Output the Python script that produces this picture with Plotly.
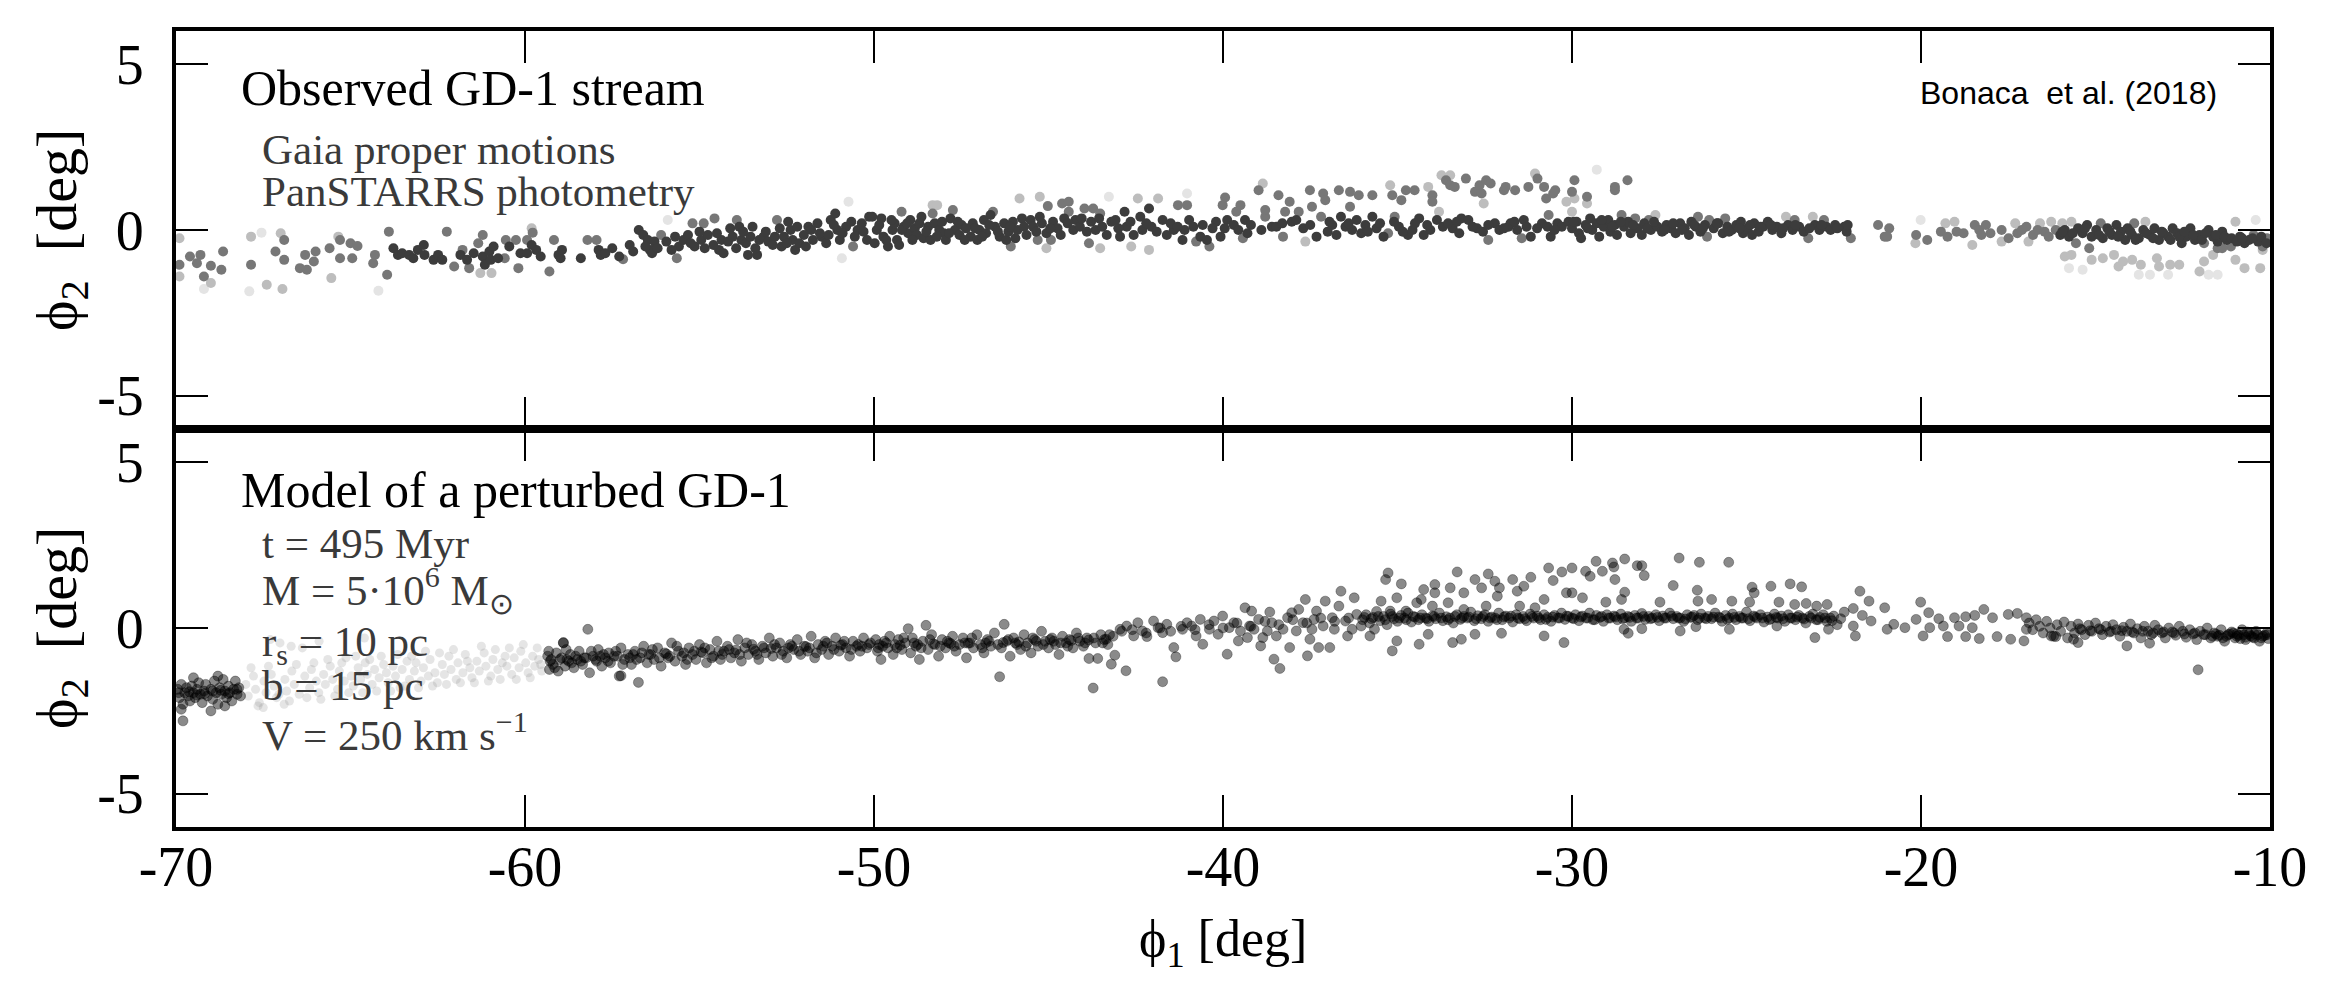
import plotly.graph_objects as go
from plotly.subplots import make_subplots

# ---- observed stream (top panel), grouped by shade ----
obs_dark = [
    (-63.77, -0.55), (-63.64, -0.75), (-63.52, -0.70), (-63.32, -0.75), (-63.20, -0.85), (-63.07, -0.60),
    (-62.90, -0.45), (-62.88, -0.75), (-62.62, -0.90), (-62.49, -0.75), (-62.37, -0.90), (-61.85, -0.75),
    (-61.66, -0.90), (-61.47, -0.70), (-61.21, -0.80), (-61.15, -1.05), (-61.02, -0.65), (-60.98, -0.90),
    (-60.90, -0.50), (-60.77, -0.85), (-60.45, -0.50), (-60.13, -0.70), (-59.94, -0.70), (-59.81, -0.45),
    (-59.68, -0.60), (-59.55, -0.80), (-59.04, -0.75), (-58.98, -0.85), (-58.94, -0.60), (-58.40, -0.85),
    (-57.89, -0.60), (-57.83, -0.75), (-57.70, -0.70), (-56.74, 0.00), (-56.61, -0.15), (-56.48, -0.30),
    (-56.42, -0.60), (-56.36, -0.70), (-56.29, -0.35), (-55.59, -0.50), (-55.46, -0.30), (-55.33, -0.15),
    (-55.14, -0.50), (-54.95, -0.30), (-54.76, -0.15), (-54.44, -0.60), (-54.37, -0.30), (-54.31, -0.70),
    (-54.18, -0.35), (-54.12, 0.05), (-54.05, -0.20), (-53.86, 0.10), (-53.80, -0.30), (-53.67, -0.40),
    (-53.61, -0.75), (-53.54, -0.20), (-53.48, 0.10), (-53.35, -0.75), (-53.29, -0.30), (-53.16, -0.20),
    (-53.03, -0.35), (-52.84, -0.20), (-52.65, -0.50), (-52.58, -0.20), (-52.46, 0.25), (-52.39, 0.00),
    (-52.33, -0.30), (-52.26, -0.60), (-52.20, 0.10), (-52.14, -0.40), (-52.01, -0.15), (-51.88, 0.10),
    (-51.75, -0.30), (-51.62, 0.20), (-51.50, -0.20), (-51.37, -0.40), (-51.24, 0.30), (-51.11, 0.50),
    (-51.05, 0.00), (-50.98, -0.30), (-50.80, 0.10), (-50.47, 0.00), (-50.35, 0.20), (-50.20, -0.30),
    (-50.14, 0.40), (-50.05, 0.40), (-49.92, 0.00), (-49.98, -0.40), (-49.79, 0.35), (-49.73, -0.20),
    (-49.60, -0.50), (-49.47, 0.00), (-49.41, 0.20), (-49.34, -0.30), (-49.28, -0.45), (-49.15, 0.10),
    (-49.02, -0.10), (-48.96, 0.30), (-48.83, 0.05), (-48.77, -0.15), (-48.64, 0.40), (-48.58, -0.25),
    (-48.45, 0.10), (-48.38, -0.30), (-48.26, 0.20), (-48.13, 0.00), (-48.00, -0.10), (-47.94, -0.30),
    (-47.81, 0.35), (-47.68, 0.00), (-47.55, -0.15), (-47.49, 0.15), (-47.36, 0.05), (-47.23, -0.20),
    (-47.17, 0.20), (-47.04, -0.30), (-46.98, 0.00), (-46.85, 0.30), (-46.79, -0.10), (-46.66, 0.45),
    (-46.53, 0.10), (-46.40, -0.20), (-46.27, 0.20), (-46.21, -0.30), (-46.15, -0.05), (-46.02, 0.25),
    (-45.89, 0.00), (-45.76, 0.35), (-45.63, -0.15), (-45.51, 0.30), (-45.44, 0.10), (-45.19, 0.20),
    (-45.06, -0.10), (-44.87, 0.25), (-44.74, 0.05), (-44.55, 0.35), (-44.29, 0.00), (-44.23, 0.30),
    (-44.10, 0.10), (-43.78, 0.25), (-43.65, 0.00), (-43.46, 0.10), (-43.33, -0.15), (-43.20, 0.25),
    (-43.08, 0.30), (-42.95, -0.20), (-42.82, 0.55), (-42.76, 0.10), (-42.56, -0.15), (-42.37, 0.40),
    (-42.31, 0.00), (-42.12, 0.65), (-42.05, 0.10), (-41.73, 0.30), (-41.61, -0.15), (-41.41, 0.00),
    (-41.16, -0.30), (-41.10, 0.00), (-40.97, 0.30), (-40.65, -0.20), (-40.58, 0.15), (-40.46, -0.30),
    (-40.20, 0.25), (-40.07, -0.20), (-39.88, 0.30), (-39.69, 0.15), (-39.56, 0.00), (-39.37, 0.30),
    (-39.30, -0.10), (-38.60, 0.10), (-38.47, 0.10), (-38.03, 0.25), (-37.90, 0.30), (-37.32, -0.20),
    (-37.00, -0.05), (-36.87, 0.15), (-36.75, -0.15), (-36.62, 0.40), (-36.49, 0.10), (-36.30, 0.00),
    (-36.17, 0.30), (-36.04, -0.10), (-35.92, 0.15), (-35.72, 0.40), (-35.60, 0.05), (-35.40, -0.20),
    (-34.96, 0.10), (-34.70, -0.15), (-34.57, 0.00), (-34.38, 0.35), (-34.25, -0.15), (-34.06, 0.00),
    (-33.87, 0.30), (-33.42, 0.05), (-33.23, -0.10), (-33.17, 0.35), (-32.97, 0.30), (-32.72, 0.05),
    (-32.21, 0.20), (-32.08, 0.00), (-31.82, 0.10), (-31.76, 0.20), (-31.57, 0.00), (-31.38, 0.30),
    (-31.18, -0.20), (-30.86, 0.20), (-30.61, -0.20), (-30.42, 0.20), (-30.29, 0.10), (-30.10, 0.25),
    (-30.00, 0.05), (-29.87, 0.25), (-29.80, -0.10), (-29.74, -0.25), (-29.61, 0.15), (-29.48, 0.35),
    (-29.42, 0.00), (-29.29, 0.20), (-29.22, -0.20), (-29.09, 0.10), (-28.96, 0.30), (-28.90, -0.05),
    (-28.77, 0.15), (-28.71, -0.15), (-28.51, 0.10), (-28.39, 0.25), (-28.32, -0.10), (-28.13, 0.05),
    (-28.00, -0.15), (-27.93, 0.20), (-27.74, 0.00), (-27.55, 0.10), (-27.42, -0.05), (-27.29, 0.15),
    (-27.16, 0.05), (-27.03, -0.10), (-26.90, 0.20), (-26.77, 0.05), (-26.65, -0.15), (-26.58, 0.25),
    (-26.45, 0.10), (-26.32, -0.05), (-26.19, 0.15), (-25.94, 0.05), (-25.81, 0.20), (-25.68, -0.10),
    (-25.55, 0.10), (-25.42, 0.00), (-25.29, 0.15), (-25.16, 0.25), (-25.10, -0.10), (-24.97, 0.05),
    (-24.84, -0.15), (-24.78, 0.20), (-24.65, -0.05), (-24.52, 0.10), (-24.39, 0.25), (-24.26, 0.00),
    (-24.13, 0.10), (-24.00, -0.10), (-23.81, 0.15), (-23.68, 0.00), (-23.49, 0.10), (-23.36, -0.05),
    (-23.04, 0.15), (-22.91, 0.00), (-22.71, 0.10), (-22.59, 0.00), (-22.46, 0.15), (-22.20, 0.10),
    (-22.13, -0.05), (-16.01, -0.15), (-15.88, 0.00), (-15.76, -0.20), (-15.50, 0.05), (-15.37, -0.10),
    (-15.24, 0.15), (-15.11, -0.20), (-14.98, 0.00), (-14.79, -0.25), (-14.66, 0.05), (-14.53, -0.15),
    (-14.40, 0.15), (-14.27, -0.05), (-14.15, -0.30), (-14.08, 0.05), (-13.95, -0.15), (-13.76, -0.25),
    (-13.63, 0.00), (-13.44, -0.15), (-13.31, 0.05), (-13.18, -0.30), (-13.05, -0.10), (-12.92, -0.20),
    (-12.79, 0.05), (-12.66, -0.10), (-12.53, -0.40), (-12.40, -0.20), (-12.28, 0.05), (-12.15, -0.30),
    (-12.02, -0.15), (-11.76, 0.00), (-11.63, -0.20), (-11.50, -0.35), (-11.37, -0.05), (-11.24, -0.30),
    (-10.86, -0.20), (-10.73, -0.40), (-10.60, -0.30), (-10.34, -0.35),
    (-57.50, -0.55), (-57.30, -0.80), (-57.00, -0.45), (-56.90, -0.65), (-56.55, -0.50), (-56.20, -0.55),
    (-55.95, -0.35), (-55.80, -0.60), (-55.70, -0.20), (-55.25, -0.40), (-55.00, -0.05), (-54.85, -0.55),
    (-54.60, -0.45), (-54.50, -0.10), (-53.95, -0.55), (-53.75, -0.05), (-53.40, -0.55), (-53.10, -0.05),
    (-52.90, -0.45), (-52.70, 0.05), (-52.50, -0.40), (-51.95, -0.50), (-51.80, 0.00), (-51.55, -0.10),
    (-51.30, -0.15), (-51.15, 0.15), (-50.90, -0.10), (-50.65, 0.25), (-50.55, -0.20), (-50.30, -0.05),
    (-49.85, 0.15), (-49.65, -0.30), (-49.50, 0.30), (-49.20, 0.00), (-49.05, 0.20), (-48.90, -0.30),
    (-48.70, 0.20), (-48.50, -0.05), (-48.20, -0.20), (-48.05, 0.25), (-47.85, -0.10), (-47.60, 0.25),
    (-47.40, -0.30), (-47.10, 0.05), (-46.90, -0.20), (-46.70, 0.15), (-46.45, -0.05), (-46.10, 0.10),
    (-45.95, -0.25), (-45.70, 0.10), (-45.35, -0.05), (-45.25, 0.40), (-44.95, 0.05), (-44.65, -0.15),
    (-44.45, 0.20), (-44.05, 0.35), (-43.90, -0.05), (-43.55, 0.35), (-43.00, 0.05), (-42.65, 0.25),
    (-42.20, 0.20), (-41.90, -0.05), (-41.50, 0.20), (-41.30, 0.10), (-40.85, 0.10), (-40.30, 0.05),
    (-39.95, 0.05), (-39.20, 0.15), (-38.90, 0.00), (-38.30, 0.20), (-37.70, 0.05), (-37.50, 0.15),
    (-36.95, 0.25), (-36.40, 0.20), (-35.85, -0.05), (-35.50, 0.20), (-35.10, 0.25), (-34.85, -0.05),
    (-34.50, 0.20), (-34.15, 0.15), (-33.70, 0.10), (-33.55, 0.20), (-33.30, 0.25), (-32.85, 0.10),
    (-32.55, -0.05), (-32.40, 0.15), (-31.95, 0.05), (-31.65, 0.25), (-31.30, 0.10), (-31.00, 0.05),
    (-30.70, 0.10), (-30.50, 0.00), (-29.95, 0.25), (-29.55, 0.05), (-29.15, 0.30), (-28.85, 0.10),
    (-28.60, 0.25), (-28.25, 0.15), (-27.85, 0.05), (-27.65, 0.25), (-27.35, 0.00), (-27.10, 0.20),
    (-26.85, 0.00), (-26.50, 0.15), (-26.25, 0.05), (-25.85, 0.20), (-25.50, -0.05), (-25.20, 0.05),
    (-24.90, 0.15), (-24.60, 0.10), (-24.30, 0.15), (-23.95, 0.05), (-23.60, 0.15), (-23.20, 0.05),
    (-22.85, 0.15), (-22.40, 0.05), (-22.10, 0.15),
    (-15.95, -0.05), (-15.65, -0.10), (-15.30, 0.05), (-14.90, -0.15), (-14.60, -0.05), (-14.35, -0.20),
    (-14.00, -0.05), (-13.85, -0.30), (-13.55, -0.10), (-13.35, -0.25), (-13.10, -0.05), (-12.85, -0.30),
    (-12.60, -0.20), (-12.45, -0.05), (-12.20, -0.15), (-11.95, -0.30), (-11.85, -0.10), (-11.55, -0.15),
    (-11.30, -0.20), (-11.10, -0.25), (-10.95, -0.35), (-10.80, -0.25), (-10.50, -0.25), (-10.25, -0.20),
    (-10.10, -0.40),
]

obs_mid = [
    (-69.90, -1.05), (-69.60, -0.80), (-69.30, -0.75), (-69.40, -1.00), (-69.00, -1.08), (-68.70, -1.20),
    (-68.65, -0.65), (-69.20, -1.40), (-67.85, -1.05), (-67.15, -0.65), (-66.90, -0.30), (-66.90, -0.90),
    (-66.45, -1.15), (-66.30, -0.75), (-66.25, -1.20), (-66.00, -0.65), (-66.05, -0.95), (-65.60, -0.55),
    (-65.30, -0.30), (-65.30, -0.85), (-65.00, -0.40), (-64.95, -0.85), (-64.80, -0.48), (-64.35, -1.00),
    (-64.30, -0.75), (-63.95, -1.35), (-63.90, -0.05), (-62.24, -0.05), (-62.03, -1.10), (-61.79, -0.60),
    (-61.60, -1.15), (-61.34, -0.40), (-61.21, -0.15), (-60.58, -0.85), (-60.55, -0.30), (-60.26, -0.30),
    (-60.19, -1.15), (-59.94, -0.30), (-59.78, -0.08), (-59.30, -1.25), (-59.17, -0.30), (-58.21, -0.30),
    (-57.95, -0.30), (-57.19, -0.88), (-56.10, -0.15), (-55.65, -0.85), (-55.20, 0.20), (-54.88, 0.20),
    (-54.57, 0.35), (-53.93, 0.30), (-52.78, 0.30), (-50.60, -0.50),
    (-49.21, 0.55), (-48.32, 0.50), (-47.74, 0.60), (-46.59, 0.55), (-46.08, -0.50), (-45.31, -0.30),
    (-45.02, 0.72), (-44.93, -0.30), (-44.61, 0.80), (-44.42, 0.55), (-44.42, 0.85), (-43.97, 0.65),
    (-43.84, -0.40), (-43.72, 0.65), (-43.52, 0.50), (-41.29, 0.75), (-41.03, 0.75), (-40.77, -0.35),
    (-40.39, -0.50), (-40.01, 0.75), (-39.94, 0.98), (-39.62, 0.55), (-39.50, 0.75), (-39.43, -0.25),
    (-38.98, 1.20), (-38.79, 0.40), (-38.79, 0.60), (-38.41, 1.05), (-38.28, -0.20), (-38.22, 0.55),
    (-38.09, 0.85), (-37.83, 0.55), (-37.51, 1.20), (-37.45, 0.70), (-37.19, 0.40), (-37.13, 1.10),
    (-37.07, 0.90), (-36.68, 1.20), (-36.36, 1.15), (-36.36, 0.70), (-36.11, 1.05), (-35.72, 1.05),
    (-35.27, -0.10), (-35.15, 1.05), (-35.08, 0.40), (-34.89, 0.90), (-34.76, 1.20), (-34.51, 1.20),
    (-34.00, 1.05), (-34.00, 0.85), (-33.61, 1.50), (-33.49, 1.35), (-33.36, 1.30), (-33.04, 1.55),
    (-32.78, 1.15), (-32.65, 1.35), (-32.59, 1.10), (-32.46, 1.50), (-32.40, -0.30), (-32.33, 1.40),
    (-31.95, 1.20), (-31.90, 1.30), (-31.63, 1.20), (-31.44, -0.25), (-31.25, 1.30), (-30.99, 1.55),
    (-30.80, 1.30), (-30.74, 0.95), (-30.67, 0.45), (-30.54, 1.10), (-30.48, 1.20),
    (-29.93, 1.50), (-30.00, 1.15), (-29.57, 1.00), (-28.77, 1.30), (-28.77, 1.20), (-28.41, 1.50),
    (-28.58, 0.45), (-28.19, 0.35), (-27.80, 0.30), (-26.39, 0.40), (-26.13, -0.20), (-26.07, 0.30),
    (-25.61, 0.35), (-23.62, 0.30), (-23.23, -0.25), (-22.78, 0.30), (-22.01, -0.25), (-21.23, 0.15),
    (-21.04, -0.20), (-20.91, 0.05), (-20.97, -0.20), (-20.14, -0.15), (-19.82, -0.30), (-19.43, -0.05),
    (-19.24, -0.20), (-18.98, -0.05), (-18.78, -0.10), (-18.46, 0.15), (-18.33, 0.00), (-18.27, -0.15),
    (-18.14, 0.15), (-18.01, -0.10), (-17.69, 0.00), (-17.49, -0.25), (-17.24, -0.10), (-17.11, 0.00),
    (-16.98, 0.10), (-16.79, -0.15), (-16.66, 0.00), (-16.46, -0.05), (-16.34, -0.20), (-16.14, 0.00),
    (-15.56, -0.40), (-15.18, -0.55), (-14.85, 0.20), (-13.89, 0.20), (-11.89, -0.40), (-11.12, -0.50),
    (-10.47, -0.15), (-10.21, -0.50), (-10.08, -0.25), (-11.50, -0.55), (-11.37, -0.55),
]

obs_light = [
    (-69.90, -0.25), (-69.90, -1.40), (-69.00, -1.60), (-67.85, -0.20), (-67.40, -1.65), (-67.00, -0.10),
    (-66.95, -1.78), (-65.55, -1.45), (-65.35, -0.20), (-61.28, -1.30), (-60.96, -1.30), (-59.81, 0.05),
    (-48.32, 0.75), (-48.19, 0.75), (-45.83, 0.95), (-45.25, 1.00), (-45.06, -0.55), (-43.52, -0.55),
    (-42.63, -0.50), (-42.44, 0.95), (-42.12, -0.60), (-41.86, 0.95), (-38.86, 1.40), (-37.64, -0.35),
    (-35.21, 1.35), (-34.12, 1.30), (-33.81, 0.55), (-33.74, 1.65), (-33.49, 1.65), (-32.53, 0.80),
    (-31.06, 1.70), (-30.16, 0.85), (-29.93, 0.95), (-29.57, 0.80), (-30.00, 0.55), (-27.61, 0.45),
    (-23.87, 0.40), (-23.10, 0.40), (-20.16, -0.40), (-19.30, 0.20), (-19.04, 0.25), (-18.53, -0.45),
    (-17.69, -0.35), (-17.30, 0.20), (-16.92, -0.35), (-16.59, 0.20), (-16.27, 0.25), (-15.95, 0.20),
    (-15.69, 0.25), (-13.57, 0.25), (-10.99, 0.25),
    (-15.88, -0.80), (-15.69, -0.75), (-15.11, -0.90), (-14.79, -0.85), (-14.47, -0.75), (-14.34, -1.10),
    (-14.21, -0.95), (-13.95, -0.90), (-13.70, -1.05), (-13.24, -0.85), (-13.18, -1.10), (-12.86, -1.05),
    (-12.60, -1.05), (-12.02, -1.25), (-11.89, -0.95), (-11.63, -0.75), (-10.99, -0.90), (-10.73, -1.15),
    (-10.28, -1.15), (-10.21, -0.60),
]

obs_faint = [
    (-69.20, -1.78), (-67.55, -0.08), (-67.90, -1.85), (-64.20, -1.83), (-55.91, 0.30), (-50.92, -0.85),
    (-50.73, 0.85), (-43.27, 1.00), (-41.03, 1.10), (-29.29, 1.82), (-20.01, 0.30), (-15.76, -1.15),
    (-15.37, -1.20), (-13.76, -1.35), (-13.44, -1.35), (-12.92, -1.35), (-11.76, -1.35), (-11.50, -1.35),
    (-10.41, 0.30),
]

# ---- model (bottom panel) ----
model_dark = [
    # far left clump
    (-69.95, -1.85), (-69.90, -2.10), (-69.85, -1.70), (-69.80, -2.30), (-69.75, -1.95), (-69.70, -1.80),
    (-69.65, -2.05), (-69.60, -2.20), (-69.55, -1.75), (-69.50, -1.95), (-69.45, -2.10), (-69.40, -1.85),
    (-69.35, -1.65), (-69.30, -2.00), (-69.25, -2.25), (-69.20, -1.90), (-69.15, -1.70), (-69.10, -2.05),
    (-69.00, -1.85), (-68.95, -2.15), (-68.90, -1.60), (-68.85, -1.95), (-68.80, -2.30), (-68.75, -1.80),
    (-68.70, -2.00), (-68.65, -1.55), (-68.60, -1.90), (-68.55, -2.10), (-68.50, -1.75), (-68.45, -1.95),
    (-68.40, -2.20), (-68.35, -1.85), (-68.30, -1.60), (-68.25, -2.00), (-68.20, -1.80), (-68.15, -2.05),
    (-69.85, -2.45), (-69.80, -2.80), (-69.00, -2.50), (-68.60, -2.35), (-69.50, -1.50), (-68.80, -1.45),
    (-69.62, -1.92), (-69.18, -1.98), (-68.72, -1.88), (-69.92, -1.95), (-69.40, -2.02), (-68.95, -1.90),
    (-68.50, -1.98), (-68.25, -1.85),
    # -59.4 .. -50
    (-59.35, -0.85), (-59.30, -1.25), (-59.25, -0.95), (-59.20, -1.10), (-59.10, -0.75), (-59.05, -1.30),
    (-58.95, -0.90), (-58.90, -0.45), (-58.85, -1.15), (-58.75, -1.00), (-58.70, -0.80), (-58.60, -1.20),
    (-58.50, -0.95), (-58.45, -0.70), (-58.35, -1.10), (-58.25, -0.90), (-58.20, -0.04), (-58.15, -1.35),
    (-58.05, -0.85), (-57.95, -1.00), (-57.90, -0.65), (-57.80, -1.15), (-57.70, -0.90), (-57.60, -0.75),
    (-57.55, -1.05), (-57.45, -0.85), (-57.30, -1.45), (-57.25, -0.60), (-57.15, -0.95), (-57.05, -0.80),
    (-56.95, -1.10), (-56.85, -0.70), (-56.75, -1.64), (-56.70, -0.90), (-56.60, -0.55), (-56.50, -1.05),
    (-56.40, -0.80), (-56.30, -0.95), (-56.20, -0.60), (-56.10, -1.15), (-56.00, -0.75), (-55.90, -0.90),
    (-55.80, -0.45), (-55.70, -1.00), (-55.60, -0.70), (-55.50, -0.85), (-55.40, -1.10), (-55.30, -0.60),
    (-55.20, -0.80), (-55.10, -0.95), (-55.00, -0.50), (-54.90, -0.75), (-54.80, -1.05), (-54.70, -0.65),
    (-54.60, -0.85), (-54.50, -0.40), (-54.40, -0.95), (-54.30, -0.70), (-54.20, -0.55), (-54.10, -0.90),
    (-54.00, -0.75), (-53.90, -0.35), (-53.80, -1.00), (-53.70, -0.60), (-53.60, -0.80), (-53.50, -0.50),
    (-53.40, -0.70), (-53.30, -0.95), (-53.20, -0.55), (-53.10, -0.75), (-53.00, -0.30), (-52.90, -0.85),
    (-52.80, -0.60), (-52.70, -0.45), (-52.60, -0.70), (-52.50, -0.90), (-52.40, -0.50), (-52.30, -0.65),
    (-52.20, -0.35), (-52.10, -0.80), (-52.00, -0.55), (-51.90, -0.70), (-51.80, -0.25), (-51.70, -0.90),
    (-51.60, -0.50), (-51.50, -0.65), (-51.40, -0.40), (-51.30, -0.80), (-51.20, -0.55), (-51.10, -0.30),
    (-51.00, -0.70), (-50.90, -0.50), (-50.80, -0.60), (-50.70, -0.85), (-50.60, -0.40), (-50.50, -0.55),
    (-50.40, -0.70), (-50.30, -0.30), (-50.20, -0.60), (-50.10, -0.45),
    (-59.28, -1.00), (-58.80, -0.95), (-58.30, -0.90), (-57.85, -0.85), (-57.35, -0.85), (-56.90, -0.80),
    (-56.45, -0.80), (-55.95, -0.78), (-55.45, -0.75), (-54.95, -0.72), (-54.45, -0.70), (-53.95, -0.66),
    (-53.45, -0.64), (-52.95, -0.62), (-52.45, -0.60), (-51.95, -0.56), (-51.45, -0.55), (-50.95, -0.52),
    (-50.45, -0.50), (-57.25, -1.44), (-58.90, -0.44),
    (-59.32, -0.70), (-59.15, -1.20), (-59.00, -0.95), (-58.82, -0.65), (-58.66, -1.05), (-58.55, -0.85),
    (-58.40, -1.00), (-58.10, -0.70), (-57.98, -0.95), (-57.75, -0.80), (-57.62, -1.00), (-57.40, -0.70),
    (-57.20, -1.10), (-57.00, -0.90), (-56.80, -0.95), (-56.65, -0.75), (-56.35, -0.65), (-56.15, -0.90),
    (-55.85, -0.85), (-55.65, -0.55), (-55.35, -0.95), (-55.15, -0.70), (-54.85, -0.60), (-54.65, -0.90),
    (-54.35, -0.80), (-54.15, -0.65), (-53.85, -0.80), (-53.65, -0.45), (-53.35, -0.80), (-53.15, -0.60),
    (-52.85, -0.50), (-52.65, -0.80), (-52.35, -0.55), (-52.15, -0.70), (-51.85, -0.60), (-51.65, -0.75),
    (-51.35, -0.45), (-51.15, -0.65), (-50.85, -0.40), (-50.65, -0.65), (-50.35, -0.55), (-50.15, -0.50),
    # -50 .. -43
    (-49.95, -0.35), (-49.90, -0.70), (-49.85, -0.50), (-49.80, -0.95), (-49.70, -0.40), (-49.60, -0.60),
    (-49.55, -0.25), (-49.45, -0.80), (-49.40, -0.50), (-49.30, -0.35), (-49.20, -0.65), (-49.10, -0.45),
    (-49.02, -0.02), (-48.95, -0.75), (-48.90, -0.30), (-48.80, -0.55), (-48.70, -0.95), (-48.60, -0.40),
    (-48.51, 0.08), (-48.45, -0.65), (-48.35, -0.20), (-48.25, -0.50), (-48.15, -0.85), (-48.05, -0.35),
    (-47.95, -0.60), (-47.85, -0.45), (-47.75, -0.25), (-47.65, -0.70), (-47.55, -0.50), (-47.45, -0.30),
    (-47.35, -0.90), (-47.25, -0.45), (-47.15, -0.60), (-47.05, -0.20), (-46.95, -0.50), (-46.85, -0.75),
    (-46.75, -0.35), (-46.65, -0.55), (-46.55, -0.15), (-46.40, -1.47), (-46.35, -0.60), (-46.27, 0.11),
    (-46.20, -0.40), (-46.10, -0.85), (-46.00, -0.30), (-45.90, -0.50), (-45.80, -0.65), (-45.70, -0.20),
    (-45.60, -0.45), (-45.50, -0.75), (-45.40, -0.35), (-45.30, -0.55), (-45.20, -0.10), (-45.10, -0.40),
    (-45.00, -0.60), (-44.90, -0.30), (-44.80, -0.50), (-44.70, -0.80), (-44.60, -0.25), (-44.50, -0.45),
    (-44.40, -0.35), (-44.30, -0.60), (-44.20, -0.15), (-44.10, -0.40), (-44.00, -0.55), (-43.90, -0.30),
    (-43.84, -0.92), (-43.72, -1.81), (-43.65, -0.45), (-43.59, -0.92), (-43.50, -0.20), (-43.40, -0.35),
    (-43.30, -0.50), (-43.20, -1.09), (-43.15, -0.25), (-43.10, -0.82),
    (-49.75, -0.55), (-49.25, -0.52), (-48.75, -0.50), (-48.30, -0.48), (-47.80, -0.47), (-47.30, -0.46),
    (-46.80, -0.45), (-46.30, -0.44), (-45.85, -0.42), (-45.35, -0.40), (-44.85, -0.40), (-44.35, -0.38),
    (-43.85, -0.36), (-43.35, -0.34),
    (-49.88, -0.60), (-49.65, -0.45), (-49.35, -0.60), (-49.15, -0.30), (-48.85, -0.45), (-48.65, -0.60),
    (-48.40, -0.35), (-48.10, -0.55), (-47.90, -0.40), (-47.70, -0.55), (-47.40, -0.45), (-47.20, -0.30),
    (-46.90, -0.60), (-46.70, -0.40), (-46.45, -0.50), (-46.15, -0.35), (-45.95, -0.45), (-45.65, -0.55),
    (-45.45, -0.30), (-45.15, -0.50), (-44.95, -0.35), (-44.65, -0.45), (-44.45, -0.55), (-44.15, -0.30),
    (-43.95, -0.45), (-43.70, -0.30), (-43.45, -0.45), (-43.25, -0.20),
    # -43 .. -36 (broadened)
    (-42.95, -0.04), (-42.76, 0.06), (-42.56, -0.24), (-42.44, 0.16), (-42.31, -0.09), (-42.18, -0.26),
    (-41.99, 0.21), (-41.86, 0.01), (-41.73, -0.14), (-41.61, 0.11), (-41.41, -0.59), (-41.35, -0.87),
    (-41.16, -0.04), (-41.03, 0.16), (-40.90, 0.06), (-40.77, -0.24), (-40.65, 0.26), (-40.58, -0.49),
    (-40.39, -0.04), (-40.26, 0.21), (-40.14, -0.19), (-40.01, 0.36), (-39.88, -0.79), (-39.82, 0.01),
    (-39.69, 0.16), (-39.56, -0.39), (-39.50, -0.09), (-39.37, 0.61), (-39.30, -0.29), (-39.24, 0.06),
    (-39.18, 0.51), (-39.11, -0.04), (-38.98, 0.26), (-38.92, -0.54), (-38.86, -0.29), (-38.73, -0.09),
    (-38.66, 0.48), (-38.60, 0.16), (-38.54, -0.94), (-38.47, -0.24), (-38.37, -1.22), (-38.28, -0.04),
    (-38.15, 0.31), (-38.09, -0.59), (-38.03, 0.46), (-37.90, -0.09), (-37.83, 0.56), (-37.71, 0.16),
    (-37.64, 0.86), (-37.58, -0.84), (-37.51, -0.34), (-37.45, -0.04), (-37.39, 0.26), (-37.32, 0.51),
    (-37.26, -0.59), (-37.13, 0.06), (-37.07, 0.81), (-36.94, -0.59), (-36.87, 0.31), (-36.81, -0.04),
    (-36.68, 0.66), (-36.62, 1.11), (-36.49, 0.21), (-36.43, -0.24), (-36.30, -0.04), (-36.24, 0.91),
    (-36.17, 0.41), (-36.04, 0.06), (-42.78, -1.29), (-41.73, -1.62),
    (-42.90, -0.10), (-42.60, -0.05), (-42.20, -0.15), (-41.80, 0.00), (-41.50, -0.10), (-41.20, 0.05),
    (-40.80, -0.05), (-40.40, 0.10), (-40.00, 0.00), (-39.60, 0.15), (-39.20, 0.05), (-38.80, 0.20),
    (-38.40, 0.10), (-38.00, 0.25), (-37.60, 0.15), (-37.20, 0.30), (-36.80, 0.20), (-36.40, 0.30),
    # -36 .. -22 core
    (-36.00, 0.25), (-35.90, 0.40), (-35.80, 0.15), (-35.70, 0.32), (-35.60, 0.50), (-35.50, 0.22),
    (-35.40, 0.35), (-35.30, 0.10), (-35.20, 0.42), (-35.10, 0.28), (-35.00, 0.20), (-34.90, 0.38),
    (-34.80, 0.30), (-34.70, 0.45), (-34.60, 0.18), (-34.50, 0.33), (-34.40, 0.25), (-34.30, 0.40),
    (-34.20, 0.30), (-34.10, 0.20), (-34.00, 0.36), (-33.90, 0.28), (-33.80, 0.45), (-33.70, 0.22),
    (-33.60, 0.34), (-33.50, 0.30), (-33.40, 0.15), (-33.30, 0.40), (-33.20, 0.26), (-33.10, 0.35),
    (-33.00, 0.30), (-32.90, 0.48), (-32.80, 0.22), (-32.70, 0.37), (-32.60, 0.28), (-32.50, 0.40),
    (-32.40, 0.20), (-32.30, 0.33), (-32.20, 0.30), (-32.10, 0.45), (-32.00, 0.25), (-31.90, 0.36),
    (-31.80, 0.30), (-31.70, 0.18), (-31.60, 0.40), (-31.50, 0.28), (-31.40, 0.35), (-31.30, 0.22),
    (-31.20, 0.42), (-31.10, 0.30), (-31.00, 0.36), (-30.90, 0.25), (-30.80, 0.40), (-30.70, 0.32),
    (-30.60, 0.20), (-30.50, 0.38), (-30.40, 0.30), (-30.30, 0.45), (-30.20, 0.26), (-30.10, 0.35),
    (-30.00, 0.30), (-29.90, 0.40), (-29.80, 0.22), (-29.70, 0.36), (-29.60, 0.30), (-29.50, 0.45),
    (-29.40, 0.25), (-29.30, 0.38), (-29.20, 0.32), (-29.10, 0.20), (-29.00, 0.40), (-28.90, 0.30),
    (-28.80, 0.36), (-28.70, 0.25), (-28.60, 0.42), (-28.50, 0.30), (-28.40, 0.35), (-28.30, 0.20),
    (-28.20, 0.38), (-28.10, 0.30), (-28.00, 0.44), (-27.90, 0.26), (-27.80, 0.35), (-27.70, 0.30),
    (-27.60, 0.40), (-27.50, 0.22), (-27.40, 0.36), (-27.30, 0.30), (-27.20, 0.45), (-27.10, 0.28),
    (-27.00, 0.35), (-26.90, 0.30), (-26.80, 0.20), (-26.70, 0.40), (-26.60, 0.32), (-26.50, 0.38),
    (-26.40, 0.25), (-26.30, 0.42), (-26.20, 0.30), (-26.10, 0.35), (-26.00, 0.28), (-25.90, 0.45),
    (-25.80, 0.33), (-25.70, 0.20), (-25.60, 0.38), (-25.50, 0.30), (-25.40, 0.42), (-25.30, 0.25),
    (-25.20, 0.35), (-25.10, 0.30), (-25.00, 0.48), (-24.90, 0.22), (-24.80, 0.36), (-24.70, 0.30),
    (-24.60, 0.40), (-24.50, 0.18), (-24.40, 0.33), (-24.30, 0.28), (-24.20, 0.42), (-24.10, 0.30),
    (-24.00, 0.36), (-23.90, 0.20), (-23.80, 0.40), (-23.70, 0.30), (-23.60, 0.25), (-23.50, 0.38),
    (-23.40, 0.30), (-23.30, 0.15), (-23.20, 0.35), (-23.10, 0.42), (-23.00, 0.25), (-22.90, 0.32),
    (-22.80, 0.40), (-22.70, 0.20), (-22.60, 0.30), (-22.50, 0.36), (-22.40, 0.10), (-22.30, 0.28),
    (-35.95, 0.32), (-35.75, 0.28), (-35.55, 0.35), (-35.35, 0.25), (-35.15, 0.35), (-34.95, 0.30),
    (-34.75, 0.25), (-34.55, 0.35), (-34.35, 0.30), (-34.15, 0.28), (-33.95, 0.35), (-33.75, 0.30),
    (-33.55, 0.25), (-33.35, 0.35), (-33.15, 0.30), (-32.95, 0.33), (-32.75, 0.28), (-32.55, 0.35),
    (-32.35, 0.30), (-32.15, 0.25), (-31.95, 0.33), (-31.75, 0.36), (-31.55, 0.30), (-31.35, 0.28),
    (-31.15, 0.35), (-30.95, 0.30), (-30.75, 0.26), (-30.55, 0.33), (-30.35, 0.30), (-30.15, 0.36),
    (-29.95, 0.28), (-29.75, 0.33), (-29.55, 0.30), (-29.35, 0.25), (-29.15, 0.35), (-28.95, 0.30),
    (-28.75, 0.33), (-28.55, 0.28), (-28.35, 0.32), (-28.15, 0.30), (-27.95, 0.35), (-27.75, 0.28),
    (-27.55, 0.32), (-27.35, 0.30), (-27.15, 0.36), (-26.95, 0.30), (-26.75, 0.27), (-26.55, 0.33),
    (-26.35, 0.30), (-26.15, 0.28), (-25.95, 0.33), (-25.75, 0.30), (-25.55, 0.26), (-25.35, 0.32),
    (-25.15, 0.30), (-24.95, 0.28), (-24.75, 0.33), (-24.55, 0.30), (-24.35, 0.25), (-24.15, 0.32),
    (-23.95, 0.28), (-23.75, 0.30), (-23.55, 0.33), (-23.35, 0.27), (-23.15, 0.30), (-22.95, 0.25),
    (-22.75, 0.30), (-22.55, 0.22),
    # scatter above/below -36 .. -22
    (-35.27, 1.66), (-35.34, 1.46), (-34.89, 1.33), (-35.02, 0.91), (-35.47, 0.81), (-35.21, 0.51),
    (-34.25, 1.16), (-34.32, 0.86), (-33.93, 1.31), (-33.93, 1.06), (-33.49, 1.21), (-33.29, 1.69),
    (-33.10, 1.06), (-32.78, 1.46), (-32.59, 1.21), (-32.40, 1.63), (-32.21, 1.41), (-32.14, 0.96),
    (-32.08, 1.21), (-31.70, 1.46), (-31.57, 1.11), (-31.38, 1.26), (-31.18, 1.53), (-31.06, 0.61),
    (-30.67, 1.81), (-30.54, 1.43), (-30.29, 1.69), (-30.16, 1.06), (-30.80, 0.86), (-31.50, 0.66),
    (-32.46, 0.66), (-33.10, 0.56), (-33.55, 0.76), (-34.00, 0.66), (-34.45, 0.76), (-34.76, 0.51),
    (-35.15, -0.69), (-35.02, -0.39), (-34.38, -0.49), (-34.12, -0.19), (-33.42, -0.44), (-33.17, -0.34),
    (-32.78, -0.19), (-32.02, -0.16), (-30.80, -0.24), (-30.23, -0.44), (-35.79, -0.24), (-35.66, -0.04),
    (-30.00, 1.81), (-29.61, 1.71), (-29.48, 1.56), (-29.31, 2.01), (-29.13, 1.71), (-28.84, 1.96),
    (-28.77, 1.46), (-28.80, 1.84), (-28.49, 2.08), (-28.13, 1.88), (-28.00, 1.88), (-27.93, 1.58),
    (-28.49, 1.08), (-28.58, 0.86), (-27.10, 1.28), (-26.93, 2.11), (-26.41, 1.14), (-26.35, 1.98),
    (-25.51, 1.98), (-26.00, 0.86), (-24.84, 1.23), (-24.78, 1.06), (-24.30, 1.26), (-24.07, 0.78),
    (-23.75, 1.33), (-23.42, 1.24), (-30.00, 1.06), (-29.70, 0.91), (-29.03, 0.78), (-27.48, 0.78),
    (-26.39, 0.81), (-25.42, 0.81), (-24.91, 0.78), (-23.62, 0.71), (-23.29, 0.74), (-22.99, 0.66),
    (-22.69, 0.71), (-28.51, -0.04), (-28.00, -0.02), (-26.90, -0.09), (-28.39, -0.16), (-26.45, 0.04),
    (-25.49, -0.04), (-23.04, -0.29), (-24.13, 0.06),
    # -22 .. -17 sparse
    (-22.20, 0.48), (-21.94, 0.59), (-21.75, 1.11), (-21.68, 0.38), (-21.49, 0.81), (-21.43, 0.21),
    (-21.04, 0.61), (-20.97, -0.04), (-21.88, -0.24), (-21.94, 0.06), (-22.65, -0.04), (-20.78, 0.11),
    (-20.46, 0.01), (-20.14, 0.26), (-20.01, 0.78), (-19.94, -0.24), (-19.78, 0.46), (-19.75, 0.01),
    (-19.49, 0.28), (-19.36, 0.06), (-19.24, -0.26), (-19.04, 0.31), (-18.91, 0.06), (-18.72, 0.34),
    (-18.72, -0.26), (-18.53, 0.01), (-18.46, 0.38), (-18.33, -0.32), (-18.20, 0.56), (-17.95, 0.31),
    (-17.82, -0.26), (-17.50, 0.41), (-17.43, -0.34), (-17.24, 0.44), (-17.05, -0.39), (-16.98, -0.04),
    (-16.98, 0.31),
    # -17 .. -10
    (-16.90, 0.15), (-16.80, -0.05), (-16.70, 0.25), (-16.60, 0.05), (-16.50, -0.15), (-16.40, 0.20),
    (-16.30, 0.00), (-16.20, -0.25), (-16.10, 0.10), (-16.00, -0.10), (-15.90, 0.18), (-15.80, -0.30),
    (-15.70, 0.05), (-15.60, -0.15), (-15.50, 0.12), (-15.40, -0.05), (-15.30, -0.20), (-15.20, 0.08),
    (-15.10, -0.10), (-15.00, 0.15), (-14.90, -0.02), (-14.80, -0.20), (-14.70, 0.05), (-14.60, -0.12),
    (-14.50, 0.10), (-14.40, -0.05), (-14.30, -0.25), (-14.20, 0.02), (-14.10, -0.10), (-14.00, 0.12),
    (-13.90, -0.15), (-13.80, -0.02), (-13.70, -0.30), (-13.60, 0.05), (-13.50, -0.10), (-13.40, -0.20),
    (-13.30, 0.08), (-13.20, -0.05), (-13.10, -0.15), (-13.00, -0.30), (-12.90, 0.00), (-12.80, -0.12),
    (-12.70, -0.22), (-12.60, 0.05), (-12.50, -0.10), (-12.40, -0.28), (-12.30, -0.05), (-12.20, -0.18),
    (-12.10, -0.35), (-12.00, -0.10), (-11.90, -0.20), (-11.80, 0.00), (-11.70, -0.30), (-11.60, -0.15),
    (-11.50, -0.25), (-11.40, -0.05), (-11.30, -0.40), (-11.20, -0.20), (-11.10, -0.12), (-11.00, -0.30),
    (-10.90, -0.22), (-10.80, -0.05), (-10.70, -0.35), (-10.60, -0.18), (-10.50, -0.28), (-10.40, -0.10),
    (-10.30, -0.40), (-10.20, -0.25), (-10.10, -0.15), (-10.05, -0.32), (-11.45, -0.22), (-11.15, -0.18),
    (-10.95, -0.25), (-10.75, -0.20), (-10.55, -0.24), (-10.35, -0.20), (-10.15, -0.22), (-10.45, -0.30),
    (-10.65, -0.12), (-10.85, -0.32), (-11.05, -0.15), (-11.35, -0.30), (-11.65, -0.25),
    (-15.45, -0.02), (-15.15, -0.08), (-14.85, -0.05), (-14.55, -0.10), (-14.25, -0.08), (-13.95, -0.12),
    (-13.65, -0.10), (-13.35, -0.15), (-13.05, -0.12), (-12.75, -0.15), (-12.45, -0.18), (-12.15, -0.15),
    (-11.85, -0.20), (-11.55, -0.18), (-11.25, -0.25), (-10.95, -0.18), (-10.70, -0.28), (-10.45, -0.18),
    (-10.25, -0.30), (-10.08, -0.20),
    (-16.27, -0.24), (-16.14, -0.26), (-15.63, -0.34), (-15.50, -0.44), (-14.10, -0.54), (-13.45, -0.46),
    (-12.06, -1.26),
]

model_faint = [
    (-68.00, -1.70), (-67.93, -2.05), (-67.78, -1.45), (-67.72, -1.85), (-67.61, -2.25), (-67.48, -1.60),
    (-67.42, -1.95), (-67.27, -1.40), (-67.19, -1.75), (-67.12, -2.10), (-67.02, -0.45), (-66.88, -1.55),
    (-66.83, -1.90), (-66.68, -1.30), (-66.61, -1.70), (-66.47, -2.00), (-66.38, -0.60), (-66.31, -1.45),
    (-66.17, -1.80), (-66.12, -1.25), (-65.98, -1.60), (-65.91, -1.95), (-65.77, -1.40), (-65.72, -1.70),
    (-65.58, -1.15), (-65.51, -1.55), (-65.37, -1.85), (-65.32, -1.30), (-65.18, -1.60), (-65.13, -0.90),
    (-64.98, -1.45), (-64.92, -1.75), (-64.78, -1.20), (-64.71, -1.55), (-64.58, -1.05), (-64.52, -1.40),
    (-64.38, -1.70), (-64.31, -1.25), (-64.18, -1.50), (-64.12, -0.85), (-63.97, -1.35), (-63.92, -1.65),
    (-63.78, -1.15), (-63.71, -1.45), (-63.58, -1.80), (-63.52, -1.25), (-63.38, -1.00), (-63.31, -1.55),
    (-63.17, -1.30), (-63.12, -1.05), (-62.98, -1.60), (-62.91, -1.20), (-62.77, -1.45), (-62.72, -0.95),
    (-62.58, -1.35), (-62.51, -1.65), (-62.37, -1.10), (-62.31, -1.40), (-62.18, -0.85), (-62.12, -1.25),
    (-61.97, -1.55), (-61.92, -1.05), (-61.78, -1.35), (-61.71, -0.80), (-61.58, -1.20), (-61.52, -1.50),
    (-61.38, -1.00), (-61.31, -1.30), (-61.17, -0.75), (-61.12, -1.15), (-60.98, -1.45), (-60.92, -0.95),
    (-60.78, -1.25), (-60.71, -1.55), (-60.57, -0.85), (-60.52, -1.15), (-60.38, -1.40), (-60.31, -0.90),
    (-60.17, -1.20), (-60.12, -0.70), (-59.98, -1.05), (-59.91, -1.35), (-59.78, -0.85), (-59.72, -1.15),
    (-59.61, -0.95), (-59.52, -1.30), (-67.50, -2.40), (-67.30, -0.35), (-66.90, -2.30), (-66.70, -0.55),
    (-65.90, -0.40), (-64.60, -0.30),
    (-67.85, -1.20), (-67.65, -2.35), (-67.35, -1.15), (-67.05, -2.00), (-66.75, -2.20), (-66.55, -1.10),
    (-66.25, -2.10), (-66.05, -1.05), (-65.85, -2.15), (-65.65, -0.95), (-65.45, -2.05), (-65.25, -1.05),
    (-65.05, -1.95), (-64.85, -0.85), (-64.65, -1.95), (-64.45, -0.95), (-64.25, -1.90), (-64.05, -1.10),
    (-63.85, -1.90), (-63.65, -0.80), (-63.45, -1.75), (-63.25, -0.85), (-63.05, -1.80), (-62.85, -0.70),
    (-62.65, -1.75), (-62.45, -0.75), (-62.25, -1.70), (-62.05, -0.65), (-61.85, -1.65), (-61.65, -1.00),
    (-61.45, -1.65), (-61.25, -0.55), (-61.05, -1.60), (-60.85, -0.65), (-60.65, -1.05), (-60.45, -0.60),
    (-60.25, -1.55), (-60.05, -0.50), (-59.85, -1.50), (-59.65, -0.60), (-59.55, -1.10),
]

x_ticks = [-70, -60, -50, -40, -30, -20, -10]
x_tick_text = ["-70", "-60", "-50", "-40", "-30", "-20", "-10"]
y_ticks = [-5, 0, 5]
y_tick_text = ["-5", "0", "5"]

SERIF = "Liberation Serif, Times New Roman, serif"

fig = make_subplots(rows=2, cols=1, shared_xaxes=True, vertical_spacing=0)


def add_points(pts, row, color, size, line=None):
    xs = [p[0] for p in pts]
    ys = [p[1] for p in pts]
    marker = dict(color=color, size=size, line=line or dict(width=0))
    fig.add_trace(go.Scatter(x=xs, y=ys, mode="markers", marker=marker,
                             showlegend=False, hoverinfo="skip"), row=row, col=1)


add_points(obs_faint, 1, "#e4e4e4", 10)
add_points(obs_light, 1, "#bdbdbd", 10)
add_points(obs_mid, 1, "#777777", 10)
add_points(obs_dark, 1, "#3c3c3c", 10)

add_points(model_faint, 2, "rgba(150,150,150,0.25)", 9)
add_points(model_dark, 2, "rgba(0,0,0,0.46)", 10, dict(width=1, color="rgba(0,0,0,0.3)"))

axis_common = dict(showgrid=False, zeroline=False, showline=True, linewidth=4,
                   linecolor="black", mirror="ticks", ticks="inside", ticklen=32, tickwidth=2,
                   tickcolor="black", tickfont=dict(family=SERIF, size=56, color="black"))

fig.update_xaxes(**axis_common)
fig.update_yaxes(**axis_common)
fig.update_xaxes(range=[-70, -10], tickvals=x_ticks, ticktext=x_tick_text)
fig.update_xaxes(showticklabels=False, row=1, col=1)
fig.update_xaxes(ticklabelstandoff=-12, row=2, col=1)
fig.update_yaxes(range=[-6, 6], tickvals=y_ticks, ticktext=y_tick_text, ticklabelstandoff=17)

# panel texts
ann = []
ann.append(dict(text="Observed GD-1 stream", x=0.030, y=0.928, font=dict(size=50, color="black")))
ann.append(dict(text="Gaia proper motions", x=0.040, y=0.851, font=dict(size=43, color="#3a3a3a")))
ann.append(dict(text="PanSTARRS photometry", x=0.040, y=0.798, font=dict(size=43, color="#3a3a3a")))
ann.append(dict(text="Model of a perturbed GD-1", x=0.030, y=0.423, font=dict(size=50, color="black")))
ann.append(dict(text="t = 495 Myr", x=0.040, y=0.356, font=dict(size=43, color="#3a3a3a")))
ann.append(dict(text="M = 5·10<sup>6</sup> M<sub>⊙</sub>", x=0.040, y=0.297, font=dict(size=43, color="#3a3a3a")))
ann.append(dict(text="r<sub>s</sub> = 10 pc", x=0.040, y=0.229, font=dict(size=43, color="#3a3a3a")))
ann.append(dict(text="b = 15 pc", x=0.040, y=0.178, font=dict(size=43, color="#3a3a3a")))
ann.append(dict(text="V = 250 km s<sup>−1</sup>", x=0.040, y=0.119, font=dict(size=43, color="#3a3a3a")))
for a in ann:
    a.update(xref="paper", yref="paper", xanchor="left", yanchor="middle", showarrow=False)
    a["font"]["family"] = SERIF

ann.append(dict(text="Bonaca\u00a0 et al. (2018)", x=0.9757, y=0.922, xref="paper", yref="paper",
                xanchor="right", yanchor="middle", showarrow=False,
                font=dict(family="Liberation Sans, Arial, sans-serif", size=32, color="black")))

# axis titles
for yc in (0.75, 0.25):
    ann.append(dict(text="ϕ<sub>2</sub>\u00a0 [deg]", x=-0.0554, y=yc, xref="paper", yref="paper",
                    textangle=-90, xanchor="center", yanchor="middle", showarrow=False,
                    font=dict(family=SERIF, size=58, color="black")))
ann.append(dict(text="ϕ<sub>1</sub> [deg]", x=0.5, y=-0.1457, xref="paper", yref="paper",
                xanchor="center", yanchor="middle", showarrow=False,
                font=dict(family=SERIF, size=52, color="black")))

# the page body keeps an 8 px margin: size the figure so it fits the window without scrolling
fig.update_layout(
    width=2321, height=976,
    margin=dict(l=168, r=59, t=23, b=157),
    paper_bgcolor="white", plot_bgcolor="white",
    annotations=ann,
    showlegend=False,
)

fig.write_html("out.html")
